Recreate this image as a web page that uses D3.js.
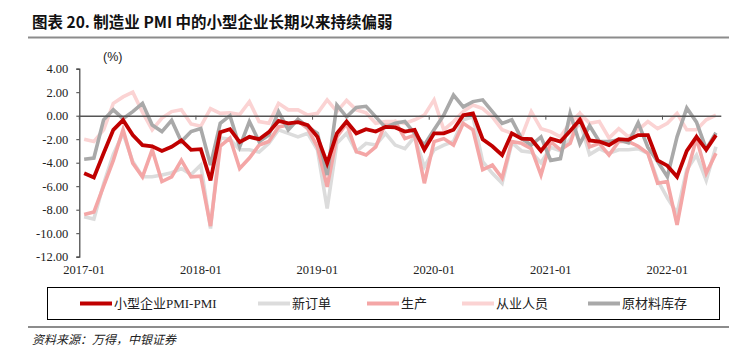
<!DOCTYPE html>
<html><head><meta charset="utf-8">
<script src="https://cdn.jsdelivr.net/npm/d3@7"></script>
<style>
body{margin:0;background:#fff;}
svg{display:block;}
</style></head><body>
<svg id="c" width="729" height="361"></svg>
<script>
const months = d3.range(66).map(i => { const y = 2017 + Math.floor(i/12), m = i%12+1; return y + "-" + String(m).padStart(2,"0"); });
const xTickLabels = ["2017-01","2018-01","2019-01","2020-01","2021-01","2022-01"];
const yTicks = [4,2,0,-2,-4,-6,-8,-10,-12];
const seriesNames = ["小型企业PMI-PMI","新订单","生产","从业人员","原材料库存"];

const smallPMI = [-4.9,-5.25,-3.2,-1.2,-0.37,-1.65,-2.5,-2.6,-3.0,-2.65,-2.1,-2.9,
 -2.85,-5.5,-1.4,-1.15,-2.25,-1.8,-2.0,-1.4,-0.45,-0.65,-0.55,-0.8,
 -1.8,-4.05,-1.5,-0.5,-1.5,-1.15,-1.35,-0.95,-1.0,-1.35,-1.2,-2.9,
 -1.5,-1.5,-1.2,0.05,0.2,-2.0,-2.6,-3.35,-1.5,-1.95,-2.0,-3.0,
 -1.95,-2.2,-1.3,-0.35,-2.1,-2.2,-2.5,-2.0,-2.05,-1.65,-1.65,-3.8,
 -4.25,-5.2,-3.0,-1.8,-2.9,-1.65];
const newOrders = [-8.6,-8.8,-5.8,-3.3,-1.5,-3.9,-5.2,-5.2,-5.05,-4.85,-4.5,-5.0,
 -4.2,-9.6,-1.9,-2.0,-2.9,-2.9,-3.1,-2.35,-1.2,-1.5,-1.8,-1.5,
 -2.9,-7.9,-2.35,-1.5,-3.05,-2.35,-2.5,-1.5,-2.5,-2.8,-1.8,-4.35,
 -2.9,-2.5,-2.2,-0.35,-0.1,-3.9,-4.9,-5.75,-2.3,-3.0,-3.1,-4.0,
 -2.7,-3.0,-2.0,-0.5,-3.3,-2.8,-3.2,-2.9,-2.9,-2.8,-3.2,-5.5,
 -7.0,-8.3,-4.6,-3.35,-5.5,-2.65];
const production = [-8.4,-8.2,-6.0,-3.8,-1.2,-4.05,-5.2,-2.9,-5.6,-5.2,-3.8,-5.2,
 -5.15,-9.4,-2.6,-1.9,-4.5,-3.6,-2.5,-2.2,-0.95,-0.8,-0.45,-1.1,
 -2.65,-6.05,-1.8,-0.65,-3.05,-3.35,-2.65,-0.65,-0.5,-1.95,-1.65,-5.75,
 -2.2,-1.95,-2.5,-0.65,-1.2,-4.6,-4.2,-5.3,-2.2,-2.35,-2.8,-5.05,
 -2.2,-2.9,-2.35,0.0,-2.65,-2.35,-3.35,-2.2,-2.2,-2.6,-3.2,-5.75,
 -5.6,-9.3,-4.9,-1.95,-4.9,-3.2];
const employment = [-2.0,-2.2,-1.2,1.05,1.6,2.0,0.3,-1.2,-0.2,0.35,0.5,-0.7,
 -0.9,0.6,0.2,0.25,0.1,1.2,-0.5,-0.65,1.05,0.5,0.5,0.05,
 0.2,1.35,0.35,1.3,0.5,0.25,-0.65,-0.5,-0.5,-0.65,-0.35,0.05,
 1.35,-1.2,-0.5,0.35,0.9,0.6,-0.1,-1.2,-1.5,-1.8,0.35,-1.1,
 -1.35,-1.8,-0.6,0.2,-0.65,-0.5,-1.9,-1.1,-1.8,-1.2,-0.5,-1.1,
 -0.65,0.2,-1.2,-1.2,-0.35,0.05];
const inventory = [-3.7,-3.6,-0.35,0.5,-0.25,0.35,1.05,-0.8,-1.35,-0.4,-2.2,-1.35,
 -1.1,-4.2,-0.65,0.0,-2.65,-0.5,-2.2,-1.65,0.35,-1.2,-0.3,-0.95,
 -1.5,-5.05,0.9,-0.1,0.7,0.8,-0.1,-1.0,-0.65,-0.5,-1.5,-2.5,
 -1.2,0.05,1.75,0.75,1.2,1.35,0.35,-0.65,-0.35,-1.95,-2.5,-1.8,
 -3.8,-3.65,0.2,-2.4,-0.85,-2.2,-2.2,-2.05,-2.3,-0.6,-2.7,-3.9,
 -5.2,-1.8,0.65,-0.55,-2.85,-1.45];

const colors = {"小型企业PMI-PMI":"#c00000","新订单":"#dcdcdc","生产":"#f4a6a6","从业人员":"#fbd3d3","原材料库存":"#a9a9a9"};
const dataBy = {"小型企业PMI-PMI":smallPMI,"新订单":newOrders,"生产":production,"从业人员":employment,"原材料库存":inventory};

const svg = d3.select("#c");
const serif = "'Liberation Serif','Times New Roman',serif";
const cjk = "'Liberation Serif','Noto Sans CJK SC',serif";

// Title
svg.append("text").attr("x",32).attr("y",28)
  .style("font-family","'Noto Sans CJK SC','Noto Sans',sans-serif").style("font-weight","bold")
  .style("font-size","15.5px").attr("fill","#111")
  .text("图表 20. 制造业 PMI 中的小型企业长期以来持续偏弱");
svg.append("line").attr("x1",28).attr("x2",729).attr("y1",37.5).attr("y2",37.5)
  .attr("stroke","#8c8c8c").attr("stroke-width",2);

const x = d3.scaleBand().domain(months).range([79.3,720.8]).padding(0);
const y = d3.scaleLinear().domain([-12,4]).range([256.7,68.7]);
const bw = x.bandwidth();

// Y axis
const yAxis = svg.append("g").attr("transform","translate(79.3,0)")
  .call(d3.axisLeft(y).tickValues(yTicks).tickFormat(d => d.toFixed(2)).tickSize(3).tickPadding(8));
yAxis.select(".domain").attr("stroke","#404040").attr("stroke-width",1.2);
yAxis.selectAll(".tick line").attr("stroke","#404040");
yAxis.selectAll("text").style("font-family",serif).style("font-size","12.5px").attr("fill","#222");

// unit label
svg.append("text").attr("x",103).attr("y",61).style("font-family","'Liberation Sans',Arial,sans-serif")
  .style("font-size","12.5px").attr("fill","#222").text("(%)");

// Lines
const line = d3.line().x((d,i) => x(months[i]) + bw/2).y(d => y(d));
const drawOrder = ["新订单","生产","从业人员","原材料库存"];
drawOrder.forEach(name => {
  svg.append("path").datum(dataBy[name]).attr("d",line).attr("fill","none")
    .attr("stroke",colors[name]).attr("stroke-width",3.6)
    .attr("stroke-linejoin","miter");
});

// zero axis line with year ticks
const jans = months.filter(m => m.endsWith("-01"));
const zeroAxis = svg.append("g").attr("transform",`translate(0,${y(0)})`)
  .call(d3.axisBottom(x).tickValues(jans).tickFormat("").tickSize(4).tickSizeOuter(0));
zeroAxis.select(".domain").attr("stroke","#555").attr("stroke-width",1.6);
zeroAxis.selectAll(".tick line").attr("stroke","#555").attr("transform",`translate(${-bw/2},0)`);

// main series on top
svg.append("path").datum(smallPMI).attr("d",line).attr("fill","none")
  .attr("stroke",colors["小型企业PMI-PMI"]).attr("stroke-width",3.8);

// X labels at bottom
const xLab = svg.append("g").attr("transform","translate(0,262)")
  .call(d3.axisBottom(x).tickValues(xTickLabels).tickSize(0).tickPadding(3));
xLab.select(".domain").remove();
xLab.selectAll("text").style("font-family",serif).style("font-size","12.5px").attr("fill","#222");

// Legend
svg.append("rect").attr("x",47.5).attr("y",287.5).attr("width",672).attr("height",32)
  .attr("fill","none").attr("stroke","#000").attr("stroke-width",1);
const legendPos = [{n:"小型企业PMI-PMI",x:80},{n:"新订单",x:258},{n:"生产",x:367},{n:"从业人员",x:462},{n:"原材料库存",x:588}];
legendPos.forEach(p => {
  svg.append("line").attr("x1",p.x).attr("x2",p.x+32).attr("y1",303.5).attr("y2",303.5)
    .attr("stroke",colors[p.n]).attr("stroke-width",4);
  svg.append("text").attr("x",p.x+34).attr("y",308).style("font-family",cjk)
    .style("font-size","13px").attr("fill","#222").text(p.n);
});

// separator & source
svg.append("line").attr("x1",28).attr("x2",729).attr("y1",327).attr("y2",327)
  .attr("stroke","#8c8c8c").attr("stroke-width",2);
svg.append("text").attr("x",32).attr("y",344).style("font-family","'Noto Sans CJK SC',sans-serif")
  .style("font-size","12px").style("font-style","italic").attr("fill","#222").text("资料来源：万得，中银证券");
</script>
</body></html>
